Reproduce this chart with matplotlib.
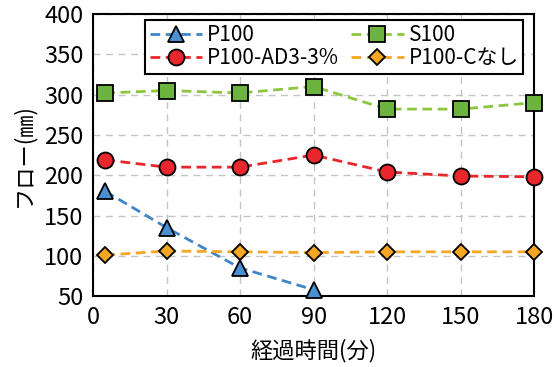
"""Flow retention over elapsed time for the four mixes."""

import matplotlib

matplotlib.use("Agg")
import matplotlib.pyplot as plt

FONT_LIST = ["Noto Sans CJK JP", "DejaVu Sans"]
plt.rcParams["font.family"] = FONT_LIST

# elapsed time (min) and flow (mm) per mix
time_p100 = [5, 30, 60, 90]
flow_p100 = [180, 135, 85, 58]

time_all = [5, 30, 60, 90, 120, 150, 180]
flow_s100 = [302, 305, 302, 310, 282, 282, 290]
flow_ad3 = [219, 210, 210, 225, 204, 199, 198]
flow_no_c = [101, 106, 105, 104, 105, 105, 105]

x_ticks = [0, 30, 60, 90, 120, 150, 180]
y_ticks = [50, 100, 150, 200, 250, 300, 350, 400]

fig = plt.figure(figsize=(5.54, 3.67), dpi=100)
ax = fig.add_axes([0.168, 0.193, 0.796, 0.769])

series = [
    (time_p100, flow_p100, "P100", "#3f86c8", "#4a8fd2", "^", 11),
    (time_all, flow_s100, "S100", "#8cc63f", "#6db33f", "s", 11),
    (time_all, flow_ad3, "P100-AD3-3%", "#e8262b", "#e8262b", "o", 11.5),
    (time_all, flow_no_c, "P100-Cなし", "#f5a623", "#f5a623", "D", 8),
]
handles = {}
for xs, ys, label, line_col, face_col, marker, size in series:
    (h,) = ax.plot(
        xs, ys, linestyle=(0, (3.5, 2)), linewidth=2, color=line_col,
        marker=marker, markersize=size, markerfacecolor=face_col,
        markeredgecolor="black", markeredgewidth=1.3, label=label,
        clip_on=False, zorder=3,
    )
    handles[label] = h

ax.set_xlim(0, 180)
ax.set_ylim(50, 400)
ax.set_xticks(x_ticks)
ax.set_yticks(y_ticks)
ax.tick_params(length=0, labelsize=17, pad=7)
ax.grid(True, color="#c4c4c4", linestyle=(0, (5, 4)), linewidth=1)
for spine in ax.spines.values():
    spine.set_linewidth(1.5)

ax.set_xlabel("経過時間(分)", fontsize=16, labelpad=7)
ax.set_ylabel("フロー(㎜)", fontsize=16, labelpad=6)

order = ["P100", "P100-AD3-3%", "S100", "P100-Cなし"]
leg = ax.legend(
    [handles[k] for k in order], order, ncol=2, loc="upper right",
    bbox_to_anchor=(0.98, 0.985), fontsize=15, handlelength=2.5,
    columnspacing=0.6, handletextpad=0.25, borderpad=0.2, labelspacing=0.05,
    borderaxespad=0.1, fancybox=False, edgecolor="black", framealpha=1,
)
leg.get_frame().set_linewidth(1.5)

fig.savefig("out.png", dpi=100)
